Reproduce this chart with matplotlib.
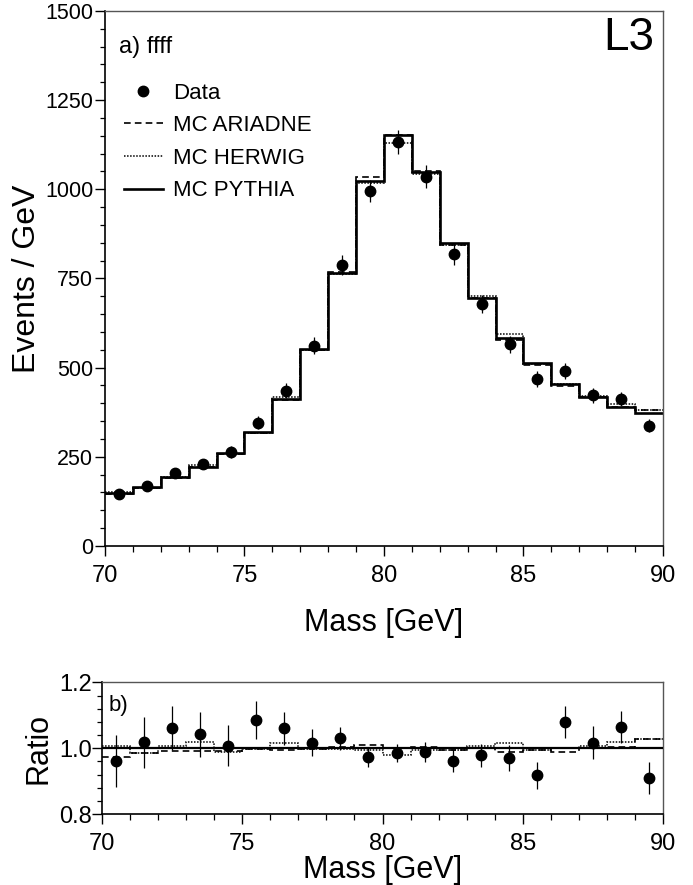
import matplotlib
matplotlib.use("Agg")
import matplotlib.pyplot as plt
from matplotlib.ticker import MultipleLocator, FormatStrFormatter
from matplotlib.lines import Line2D

plt.rcParams['font.family'] = ['Liberation Sans', 'DejaVu Sans']

# ---------------- data ----------------
mass_edges = [70, 71, 72, 73, 74, 75, 76, 77, 78, 79, 80,
              81, 82, 83, 84, 85, 86, 87, 88, 89, 90]
mass_centers = [70.5, 71.5, 72.5, 73.5, 74.5, 75.5, 76.5, 77.5, 78.5, 79.5,
                80.5, 81.5, 82.5, 83.5, 84.5, 85.5, 86.5, 87.5, 88.5, 89.5]

data_events = [145, 169, 204, 230, 263, 346, 435, 562, 788, 995,
               1132, 1035, 818, 678, 566, 469, 491, 422, 412, 337]
data_errors = [12, 13, 14, 15, 16, 19, 21, 24, 28, 32,
               34, 32, 29, 26, 24, 22, 22, 21, 20, 18]

mc_pythia = [149, 166, 193, 222, 260, 319, 411, 551, 766, 1023,
             1153, 1049, 849, 696, 584, 512, 454, 419, 389, 372]
mc_ariadne = [145, 163, 191, 220, 257, 318, 409, 550, 768, 1034,
              1153, 1052, 843, 696, 577, 508, 449, 419, 390, 382]
mc_herwig = [150, 163, 194, 226, 257, 318, 417, 549, 763, 1018,
             1130, 1042, 845, 701, 593, 509, 454, 421, 397, 382]

ratio_data = [0.961, 1.018, 1.061, 1.042, 1.007, 1.086, 1.061, 1.017, 1.030, 0.974,
              0.985, 0.988, 0.962, 0.978, 0.971, 0.918, 1.079, 1.017, 1.065, 0.910]
ratio_errors = [0.078, 0.078, 0.067, 0.068, 0.062, 0.058, 0.050, 0.042, 0.035, 0.030,
                0.027, 0.030, 0.034, 0.036, 0.039, 0.041, 0.049, 0.049, 0.049, 0.049]
ratio_ariadne = [0.972, 0.985, 0.992, 0.992, 0.990, 0.998, 0.995, 0.998, 1.003, 1.011,
                 1.000, 1.003, 0.993, 1.000, 0.988, 0.993, 0.988, 1.000, 1.003, 1.027]
ratio_herwig = [1.008, 0.985, 1.008, 1.020, 0.988, 0.996, 1.016, 0.996, 0.996, 0.995,
                0.980, 0.993, 0.995, 1.008, 1.015, 0.995, 1.000, 1.006, 1.020, 1.027]

x_ticks = [70, 75, 80, 85, 90]
main_y_ticks = [0, 250, 500, 750, 1000, 1250, 1500]
ratio_y_ticks = [0.8, 1.0, 1.2]

# ---------------- figure ----------------
fig = plt.figure(figsize=(6.93, 8.85), dpi=100)
ax = fig.add_axes([0.1515, 0.3831, 0.8052, 0.6045])
ax2 = fig.add_axes([0.1472, 0.0802, 0.8095, 0.1488])


def style_axes(a, xtick_size, ytick_size):
    a.set_xlim(70, 90)
    a.set_xticks(x_ticks)
    a.xaxis.set_minor_locator(MultipleLocator(1))
    a.tick_params(axis='x', which='major', direction='out', length=7.5, width=1.0,
                  labelsize=xtick_size, pad=6)
    a.tick_params(axis='x', which='minor', direction='out', length=4, width=0.9)
    a.tick_params(axis='y', which='major', direction='out', length=7, width=1.0,
                  labelsize=ytick_size, pad=1.5)
    a.tick_params(axis='y', which='minor', direction='out', length=3.6, width=0.9)
    a.tick_params(top=False, right=False, which='both')
    for s in ['left', 'bottom']:
        a.spines[s].set_linewidth(1.2)
        a.spines[s].set_color('black')
    for s in ['top', 'right']:
        a.spines[s].set_linewidth(1.0)
        a.spines[s].set_color('#555555')


# ---- main panel ----
ax.stairs(mc_ariadne, mass_edges, baseline=None, color='black', lw=1.2,
          linestyle=(0, (4, 2.5)), label='MC ARIADNE')
ax.stairs(mc_herwig, mass_edges, baseline=None, color='black', lw=1.1,
          linestyle=(0, (1, 1)), label='MC HERWIG')
ax.stairs(mc_pythia, mass_edges, baseline=None, color='black', lw=1.9,
          linestyle='-', label='MC PYTHIA')
ax.errorbar(mass_centers, data_events, yerr=data_errors, fmt='o', color='black',
            markersize=7.5, elinewidth=0.9, capsize=0, zorder=5)

style_axes(ax, 17, 15.5)
ax.set_ylim(0, 1500)
ax.set_yticks(main_y_ticks)
ax.yaxis.set_minor_locator(MultipleLocator(50))
ax.set_xlabel('Mass [GeV]', fontsize=22, labelpad=15)
ax.set_ylabel('Events / GeV', fontsize=23, labelpad=2)

handles = [
    Line2D([], [], marker='o', color='black', linestyle='none', markersize=7.5),
    Line2D([], [], color='black', lw=1.2, linestyle=(0, (4, 2.5))),
    Line2D([], [], color='black', lw=1.1, linestyle=(0, (1, 1))),
    Line2D([], [], color='black', lw=1.9, linestyle='-'),
]
labels = ['Data', 'MC ARIADNE', 'MC HERWIG', 'MC PYTHIA']
ax.legend(handles, labels, loc='upper left', bbox_to_anchor=(0.034, 0.866),
          frameon=False, fontsize=16, handlelength=1.75, handletextpad=0.45,
          labelspacing=0.52, borderpad=0, borderaxespad=0)

ax.text(0.025, 0.933, 'a) ffff', transform=ax.transAxes, fontsize=17,
        ha='left', va='center')
ax.text(0.984, 0.950, 'L3', transform=ax.transAxes, fontsize=33,
        ha='right', va='center')

# ---- ratio panel ----
ax2.axhline(1.0, color='black', lw=1.6, zorder=3)
ax2.stairs(ratio_ariadne, mass_edges, baseline=None, color='black', lw=1.2,
           linestyle=(0, (4, 2.5)))
ax2.stairs(ratio_herwig, mass_edges, baseline=None, color='black', lw=1.1,
           linestyle=(0, (1, 1)))
ax2.errorbar(mass_centers, ratio_data, yerr=ratio_errors, fmt='o', color='black',
             markersize=7.5, elinewidth=0.9, capsize=0, zorder=5)

style_axes(ax2, 17, 17)
ax2.set_ylim(0.8, 1.2)
ax2.set_yticks(ratio_y_ticks)
ax2.yaxis.set_major_formatter(FormatStrFormatter('%.1f'))
ax2.yaxis.set_minor_locator(MultipleLocator(0.04))
ax2.tick_params(axis='y', which='major', pad=0.5)
ax2.set_xlabel('Mass [GeV]', fontsize=22, labelpad=0)
ax2.set_ylabel('Ratio', fontsize=22, labelpad=4)
ax2.text(0.012, 0.826, 'b)', transform=ax2.transAxes, fontsize=16,
         ha='left', va='center')

fig.savefig('out.png', dpi=100)
